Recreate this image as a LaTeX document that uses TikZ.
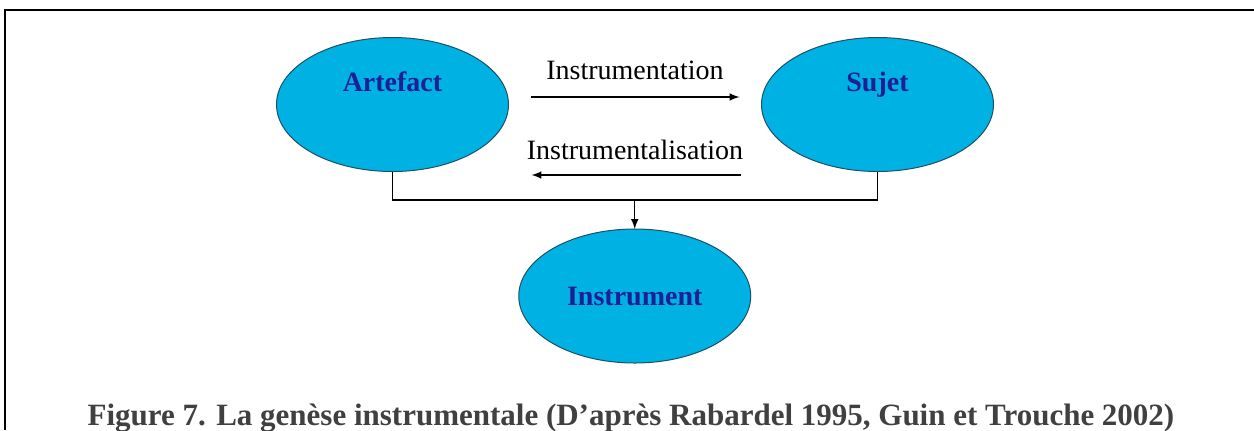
\documentclass[tikz,border=0pt]{standalone}
\usepackage{fontspec}
\setmainfont{Liberation Serif}
\usepackage{xcolor}
\usetikzlibrary{shapes.geometric}
\usetikzlibrary{positioning}
\usetikzlibrary{arrows}

\definecolor{ovalfill}{RGB}{0,178,228}
\definecolor{ovaldraw}{RGB}{30,80,100}
\definecolor{ovaltext}{RGB}{30,30,150}
\definecolor{captiontext}{RGB}{64,64,64}

\begin{document}
\begin{tikzpicture}[
    x = .5pt,
    y = -.5pt,
    font = \fontsize{14pt}{16pt}\selectfont,
    >=latex,
    ovalf/.style = {
      ellipse,
      draw=ovaldraw,
      fill=ovalfill,
      line width=.5pt,
      minimum width=116pt,
      minimum height=67pt,
      inner sep=0pt,
      outer sep=0pt,
      text=ovaltext,
      font=\fontsize{14pt}{16pt}\selectfont\bfseries
    },
    topname/.style = {
      text depth=22.5pt
    },
    linkf/.style = {
      line width=.7pt
    },
    framef/.style = {
      line width=1pt
    }
  ]
    \useasboundingbox (0,0) rectangle (1254,430);
    \draw[framef] (5,430) -- (5,10) -- (1254,10);
    \node[ovalf, topname] (artefact) at (392.5,104.5) {Artefact};
    \node[ovalf, topname] (sujet) [right=126.5pt of artefact] {Sujet};
    \node[ovalf] (instrument) at (634.75,296) {Instrument};
    \coordinate (join) at (634.75,200);
    \draw[linkf, ->, shorten <=11pt, shorten >=11pt]
      ([yshift=3.75pt]artefact.east) -- node[above=8.5pt, inner sep=0pt] (instrumentation) {Instrumentation} ([yshift=3.75pt]sujet.west);
    \draw[linkf, ->, shorten <=10.5pt, shorten >=11.5pt]
      ([yshift=-35.25pt]sujet.west) -- node[above=7.25pt, inner sep=0pt] (instrumentalisation) {Instrumentalisation} ([yshift=-35.25pt]artefact.east);
    \draw[linkf] (artefact.south) |- (join) -| (sujet.south);
    \draw[linkf, ->] (join) -- (instrument);
    \node[anchor=base, text=captiontext, font=\fontsize{15.5pt}{18pt}\selectfont\bfseries] (caption) at (631,425) {Figure 7. La genèse instrumentale (D’après Rabardel 1995, Guin et Trouche 2002)};
  \end{tikzpicture}
\end{document}
